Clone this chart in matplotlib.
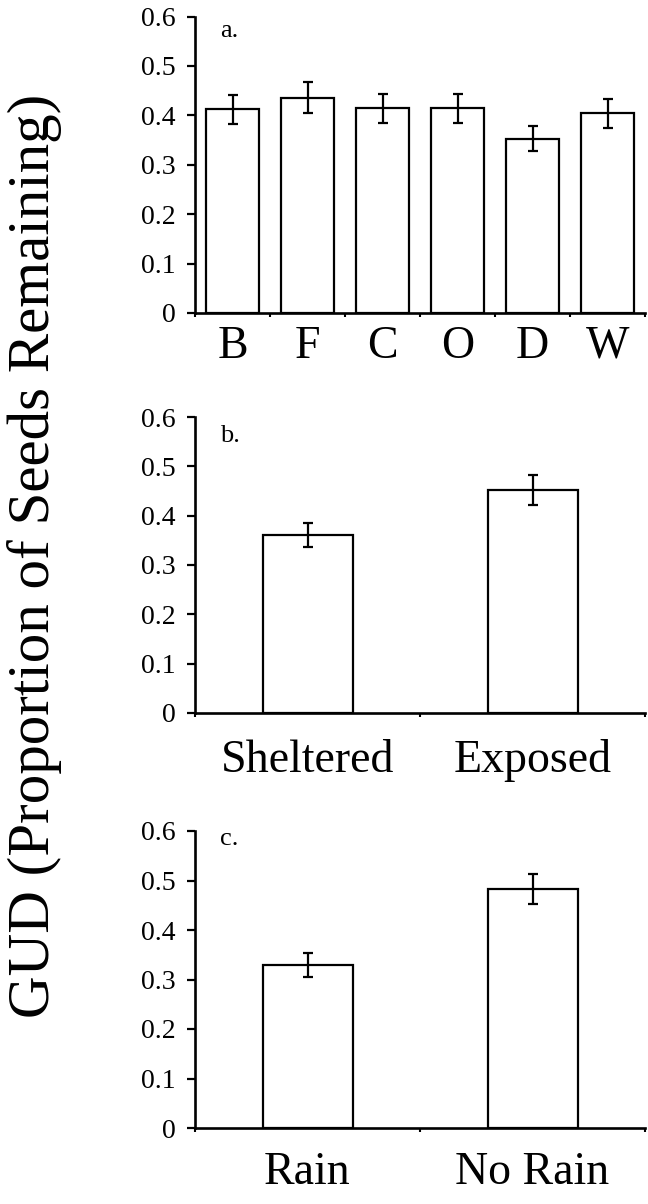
import numpy as np
import matplotlib
matplotlib.use("Agg")
import matplotlib.pyplot as plt

plt.rcParams["font.family"] = ["Liberation Serif", "DejaVu Serif"]

# panel a: site
site_labels = ["B", "F", "C", "O", "D", "W"]
site_gud = [0.412, 0.436, 0.414, 0.414, 0.353, 0.404]
site_se = [0.029, 0.031, 0.030, 0.029, 0.025, 0.029]

# panel b: microhabitat
shelter_labels = ["Sheltered", "Exposed"]
shelter_gud = [0.361, 0.452]
shelter_se = [0.024, 0.030]

# panel c: weather
rain_labels = ["Rain", "No Rain"]
rain_gud = [0.329, 0.483]
rain_se = [0.024, 0.030]

y_ticks = [0, 0.1, 0.2, 0.3, 0.4, 0.5, 0.6]
y_tick_labels = ["0", "0.1", "0.2", "0.3", "0.4", "0.5", "0.6"]

W, H = 648, 1204
fig = plt.figure(figsize=(W / 100, H / 100), dpi=100)


def panel(rect_px, labels, vals, errs, bar_w, letter, letter_y, label_pad):
    left, top, right, bottom = rect_px
    ax = fig.add_axes([left / W, 1 - bottom / H, (right - left) / W, (bottom - top) / H])
    n = len(labels)
    x = np.arange(n)
    ax.bar(x, vals, bar_w, color="white", edgecolor="black", linewidth=1.6, zorder=2)
    ax.errorbar(x, vals, yerr=errs, fmt="none", ecolor="black",
                elinewidth=1.6, capsize=3.5, capthick=1.6, zorder=3)
    ax.set_xlim(-0.5, n - 0.5)
    ax.set_ylim(0, 0.6)
    ax.set_yticks(y_ticks)
    ax.set_yticklabels(y_tick_labels, fontsize=20)
    ax.set_xticks(x)
    ax.set_xticklabels(labels, fontsize=33)
    ax.set_xticks(np.arange(n + 1) - 0.5, minor=True)
    ax.tick_params(axis="x", which="major", length=0, pad=label_pad)
    ax.tick_params(axis="x", which="minor", length=3, width=1.5, direction="out")
    ax.tick_params(axis="y", length=6, width=1.6, direction="out", pad=8)
    for s in ("top", "right"):
        ax.spines[s].set_visible(False)
    for s in ("left", "bottom"):
        ax.spines[s].set_linewidth(1.9)
    ax.text(0.056, letter_y, letter, transform=ax.transAxes, fontsize=19,
            va="baseline", ha="left")
    return ax


panel((195, 16.5, 645, 313), site_labels, site_gud, site_se, 0.71, "a.", 0.931, 9)
panel((195, 417, 645, 713), shelter_labels, shelter_gud, shelter_se, 0.4, "b.", 0.916, 19)
panel((195, 831, 645, 1128), rain_labels, rain_gud, rain_se, 0.4, "c.", 0.953, 17)

fig.text(35 / W, 1 - 556 / H, "GUD (Proportion of Seeds Remaining)",
         rotation=90, fontsize=42.5, ha="center", va="center")

fig.savefig("out.png", dpi=100)
